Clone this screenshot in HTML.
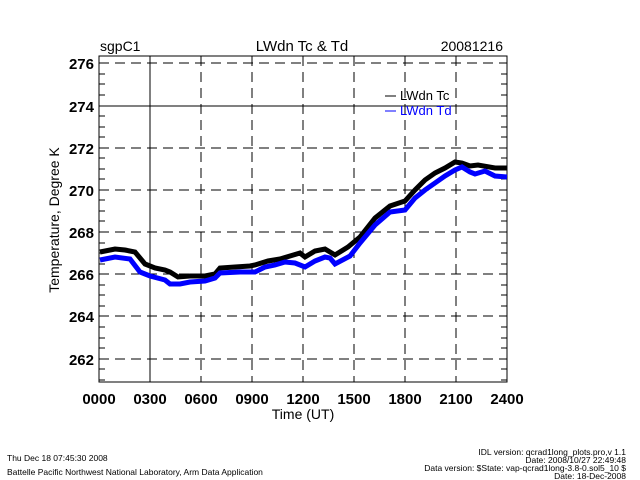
<!DOCTYPE html>
<html><head><style>body{margin:0;background:#fff}svg{display:block}</style></head><body>
<svg width="640" height="480" viewBox="0 0 640 480" xmlns="http://www.w3.org/2000/svg" font-family="Liberation Sans, sans-serif">
<rect width="640" height="480" fill="#fff"/>
<g stroke="#000" stroke-width="1" fill="none">
<g stroke-dasharray="10,6">
<line x1="99" y1="63" x2="507" y2="63"/><line x1="99" y1="148" x2="507" y2="148"/><line x1="99" y1="190" x2="507" y2="190"/><line x1="99" y1="232" x2="507" y2="232"/><line x1="99" y1="274" x2="507" y2="274"/><line x1="99" y1="316" x2="507" y2="316"/><line x1="99" y1="359" x2="507" y2="359"/>
<line x1="201" y1="56" x2="201" y2="382"/><line x1="252" y1="56" x2="252" y2="382"/><line x1="303" y1="56" x2="303" y2="382"/><line x1="354" y1="56" x2="354" y2="382"/><line x1="405" y1="56" x2="405" y2="382"/><line x1="456" y1="56" x2="456" y2="382"/>
</g>
<line x1="99" y1="106" x2="507" y2="106"/><line x1="150" y1="56" x2="150" y2="382"/>
<rect x="99" y="56" width="408" height="326"/>
</g>
<g stroke="#000" stroke-width="1">
<path d="M99 74h6M99 84h6M99 95h6M99 116h6M99 127h6M99 137h6M99 158h6M99 169h6M99 179h6M99 200h6M99 211h6M99 221h6M99 243h6M99 253h6M99 264h6M99 285h6M99 295h6M99 306h6M99 327h6M99 338h6M99 348h6M99 369h6M99 380h6"/>
<path d="M507 74h-6M507 84h-6M507 95h-6M507 116h-6M507 127h-6M507 137h-6M507 158h-6M507 169h-6M507 179h-6M507 200h-6M507 211h-6M507 221h-6M507 243h-6M507 253h-6M507 264h-6M507 285h-6M507 295h-6M507 306h-6M507 327h-6M507 338h-6M507 348h-6M507 369h-6M507 380h-6"/>
</g>
<polyline fill="none" stroke="#000" stroke-width="5" points="100,252 115,249 125,250 135,252 145,264 155,268 165,270 170,272 178,277 190,276 205,276 215,274 220,268 235,267 250,266 255,265 268,261 280,259 290,256 300,253 305,257 315,251 325,249 330,252 335,255 348,247 360,237 375,218 390,206 405,201 415,190 425,180 435,173 445,168 455,162 462,163 470,166 478,165 495,168 507,168"/>
<polyline fill="none" stroke="#0000ff" stroke-width="5" points="100,260 115,257 130,259 140,272 150,276 165,280 170,284 180,284 190,282 205,281 215,278 220,273 240,272 255,272 265,267 275,265 285,262 295,263 305,267 315,261 325,257 330,258 335,264 350,256 360,243 375,225 390,212 405,210 415,198 425,190 435,183 445,176 455,170 462,167 470,172 475,174 485,171 495,176 507,177"/>
<line x1="385" y1="96" x2="396" y2="96" stroke="#000"/><text x="400" y="100" font-size="13">LWdn Tc</text>
<line x1="385" y1="111" x2="396" y2="111" stroke="#00f"/><text x="400" y="115" font-size="13" fill="#00f">LWdn Td</text>
<g font-size="15" font-weight="bold" text-anchor="end">
<text x="94" y="69">276</text><text x="94" y="112">274</text><text x="94" y="154">272</text><text x="94" y="196">270</text><text x="94" y="238">268</text><text x="94" y="280">266</text><text x="94" y="322">264</text><text x="94" y="365">262</text>
</g>
<g font-size="15" font-weight="bold" text-anchor="middle">
<text x="99" y="404">0000</text><text x="150" y="404">0300</text><text x="201" y="404">0600</text><text x="252" y="404">0900</text><text x="303" y="404">1200</text><text x="354" y="404">1500</text><text x="405" y="404">1800</text><text x="456" y="404">2100</text><text x="507" y="404">2400</text>
</g>
<text x="303" y="419" font-size="14" text-anchor="middle">Time (UT)</text>
<text transform="translate(59,220) rotate(-90)" font-size="14" text-anchor="middle">Temperature, Degree K</text>
<text x="100" y="51" font-size="14">sgpC1</text>
<text x="302" y="51" font-size="15" text-anchor="middle">LWdn Tc &amp; Td</text>
<text x="503" y="51" font-size="14" text-anchor="end">20081216</text>
<g font-size="8.5">
<text x="7" y="461">Thu Dec 18 07:45:30 2008</text>
<text x="7" y="475">Battelle Pacific Northwest National Laboratory, Arm Data Application</text>
<g text-anchor="end"><text x="626" y="455">IDL version: qcrad1long_plots.pro,v 1.1</text><text x="626" y="463">Date: 2008/10/27 22:49:48</text><text x="626" y="471">Data version: $State: vap-qcrad1long-3.8-0.sol5_10 $</text><text x="626" y="479">Date: 18-Dec-2008</text></g>
</g>
</svg>
</body></html>
